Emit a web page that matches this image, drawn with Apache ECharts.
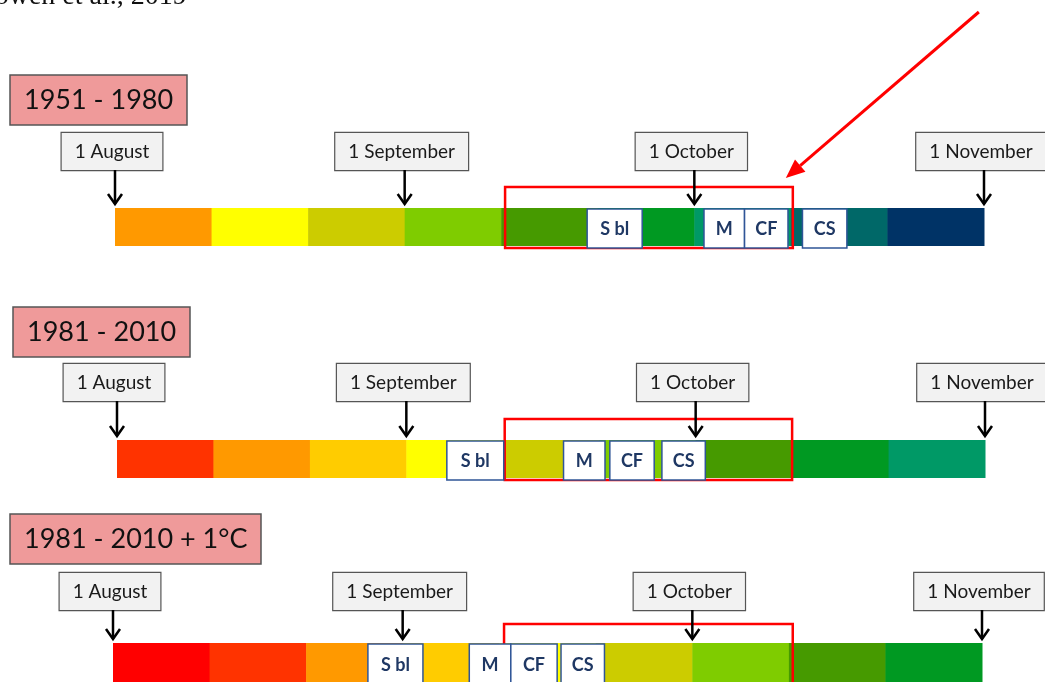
<!DOCTYPE html>
<html>
<head>
<meta charset="utf-8">
<script src="https://cdn.jsdelivr.net/npm/echarts@6/dist/echarts.min.js"></script>
<style>html,body{margin:0;padding:0;background:#fff;}#main{width:1045px;height:682px;}</style>
</head>
<body>
<div id="main"></div>
<script>
// ---- data ----
const periodLabels = ['1951 - 1980', '1981 - 2010', '1981 - 2010 + 1°C'];
const monthLabels = ['1 August', '1 September', '1 October', '1 November'];
const monthTicks = [0, 3, 6, 9]; // position in dekads from 1 August
const phaseColors1951 = ['#FF9900', '#FFFF00', '#CCCC00', '#7FCC00', '#469A00', '#009922', '#009966', '#006868', '#003366'];
const phaseColors1981 = ['#FF3300', '#FF9900', '#FFCC00', '#FFFF00', '#CCCC00', '#7FCC00', '#469A00', '#009922', '#009966'];
const phaseColors1981plus1 = ['#FF0000', '#FF3300', '#FF9900', '#FFCC00', '#FFFF00', '#CCCC00', '#7FCC00', '#469A00', '#009922'];
const eventNames = ['S bl', 'M', 'CF', 'CS'];
const events1951 = [[4.89, 5.46], [6.10, 6.52], [6.52, 6.97], [7.12, 7.58]];
const events1981 = [[3.42, 4.01], [4.63, 5.06], [5.11, 5.57], [5.65, 6.10]];
const events1981plus1 = [[2.64, 3.21], [3.69, 4.12], [4.12, 4.60], [4.64, 5.09]];
const window1951 = [4.04, 7.02];
const window1981 = [4.02, 7.00];
const window1981plus1 = [4.05, 7.04];
const citation = 'Bowen et al., 2019';

// ---- layout ----
const LAYOUT = [
  {left: 115, top: 208, width: 869, height: 38, labelGap: 38, winTop: 21, winBottom: 2, titleLeft: 10, titleTop: 75},
  {left: 117, top: 440, width: 868, height: 38, labelGap: 39, winTop: 21, winBottom: 2, titleLeft: 13, titleTop: 307},
  {left: 113, top: 643, width: 869, height: 39, labelGap: 33, winTop: 19, winBottom: 4, titleLeft: 10, titleTop: 514}
];
const phaseSets = [phaseColors1951, phaseColors1981, phaseColors1981plus1];
const eventSets = [events1951, events1981, events1981plus1];
const windowSets = [window1951, window1981, window1981plus1];

const chart = echarts.init(document.getElementById('main'));

function segRender(params, api) {
  const p0 = api.coord([api.value(0), 1]);
  const p1 = api.coord([api.value(1), 0]);
  return {type: 'rect', shape: {x: p0[0], y: p0[1], width: p1[0] - p0[0] + 0.5, height: p1[1] - p0[1]},
    style: {fill: api.visual('color')}};
}

function windowRender(gi) {
  return function (params, api) {
    const L = LAYOUT[gi];
    const p0 = api.coord([api.value(0), 1]);
    const p1 = api.coord([api.value(1), 0]);
    const children = [{type: 'rect', shape: {x: p0[0], y: p0[1] - L.winTop, width: p1[0] - p0[0], height: p1[1] - p0[1] + L.winTop + L.winBottom},
      style: {fill: null, stroke: '#FF0000', lineWidth: 2.5}}];
    if (gi === 0) {
      const tip = [p1[0] - 7, p0[1] - 30];
      const tail = [p1[0] + 186, p0[1] - 196];
      const dx = tip[0] - tail[0], dy = tip[1] - tail[1];
      const len = Math.sqrt(dx * dx + dy * dy);
      const ux = dx / len, uy = dy / len;
      const hl = 19, hw = 8;
      const base = [tip[0] - ux * hl, tip[1] - uy * hl];
      children.push({type: 'line', shape: {x1: tail[0], y1: tail[1], x2: base[0], y2: base[1]}, style: {stroke: '#FF0000', lineWidth: 3}});
      children.push({type: 'polygon', shape: {points: [tip, [base[0] - uy * hw, base[1] + ux * hw], [base[0] + uy * hw, base[1] - ux * hw]]}, style: {fill: '#FF0000'}});
    }
    return {type: 'group', children: children};
  };
}

function monthRender(gi) {
  return function (params, api) {
    const L = LAYOUT[gi];
    const x = api.coord([api.value(0), 1])[0];
    const top = api.coord([0, 1])[1];
    const boxBottom = top - L.labelGap;
    return {type: 'group', children: [
      {type: 'text', style: {text: monthLabels[params.dataIndex], x: x - 3, y: boxBottom, align: 'center', verticalAlign: 'bottom',
        fontSize: 19, fontFamily: 'Lato', fill: '#1a1a1a', backgroundColor: '#F2F2F2', borderColor: '#555', borderWidth: 1.2, padding: [9, 13, 9, 13]}},
      {type: 'line', shape: {x1: x, y1: boxBottom, x2: x, y2: top - 4}, style: {stroke: '#000', lineWidth: 2.5}},
      {type: 'polyline', shape: {points: [[x - 7, top - 14], [x, top - 4], [x + 7, top - 14]]}, style: {stroke: '#000', lineWidth: 2.5, fill: null}}
    ]};
  };
}

function eventRender(params, api) {
  const p0 = api.coord([api.value(0), 1]);
  const p1 = api.coord([api.value(1), 0]);
  const w = p1[0] - p0[0];
  const y = p0[1] + 1, h = p1[1] - p0[1] + 1;
  return {type: 'group', children: [
    {type: 'rect', shape: {x: p0[0], y: y, width: w, height: h}, style: {fill: '#FFFFFF', stroke: '#2F5597', lineWidth: 1.5}},
    {type: 'text', style: {text: eventNames[params.dataIndex], x: p0[0] + w / 2, y: y + h / 2 + 1, align: 'center', verticalAlign: 'middle',
      fontSize: 18, fontWeight: 'bold', fontFamily: 'Lato', fill: '#1F3864'}}
  ]};
}

const grid = [], xAxis = [], yAxis = [], series = [];
LAYOUT.forEach(function (L, gi) {
  grid.push({left: L.left, top: L.top, width: L.width, height: L.height});
  xAxis.push({type: 'value', gridIndex: gi, min: 0, max: 9, show: false});
  yAxis.push({type: 'value', gridIndex: gi, min: 0, max: 1, show: false});
  series.push({type: 'custom', name: 'phases ' + periodLabels[gi], xAxisIndex: gi, yAxisIndex: gi, z: 1, clip: false,
    renderItem: segRender, silent: true,
    data: phaseSets[gi].map(function (c, k) { return {value: [k, k + 1], itemStyle: {color: c}}; })});
  series.push({type: 'custom', name: 'window ' + periodLabels[gi], xAxisIndex: gi, yAxisIndex: gi, z: 2, clip: false,
    renderItem: windowRender(gi), silent: true, data: [windowSets[gi]]});
  series.push({type: 'custom', name: 'events ' + periodLabels[gi], xAxisIndex: gi, yAxisIndex: gi, z: 3, clip: false,
    renderItem: eventRender, silent: true, data: eventSets[gi]});
  series.push({type: 'custom', name: 'months ' + periodLabels[gi], xAxisIndex: gi, yAxisIndex: gi, z: 4, clip: false,
    renderItem: monthRender(gi), silent: true, data: monthTicks.map(function (m) { return [m]; })});
});

chart.setOption({
  animation: false,
  title: periodLabels.map(function (t, i) {
    return {text: t, left: LAYOUT[i].titleLeft, top: LAYOUT[i].titleTop, backgroundColor: '#EF9A9A', borderColor: '#555', borderWidth: 1.5,
      padding: [12, 14, 11, 14], textStyle: {fontFamily: 'Lato', fontSize: 27, fontWeight: 'normal', color: '#111'}};
  }),
  graphic: [{type: 'text', left: -24, top: -17, style: {text: citation, font: '28px "Liberation Serif"', fill: '#111'}}],
  grid: grid, xAxis: xAxis, yAxis: yAxis, series: series
});
</script>
</body>
</html>
